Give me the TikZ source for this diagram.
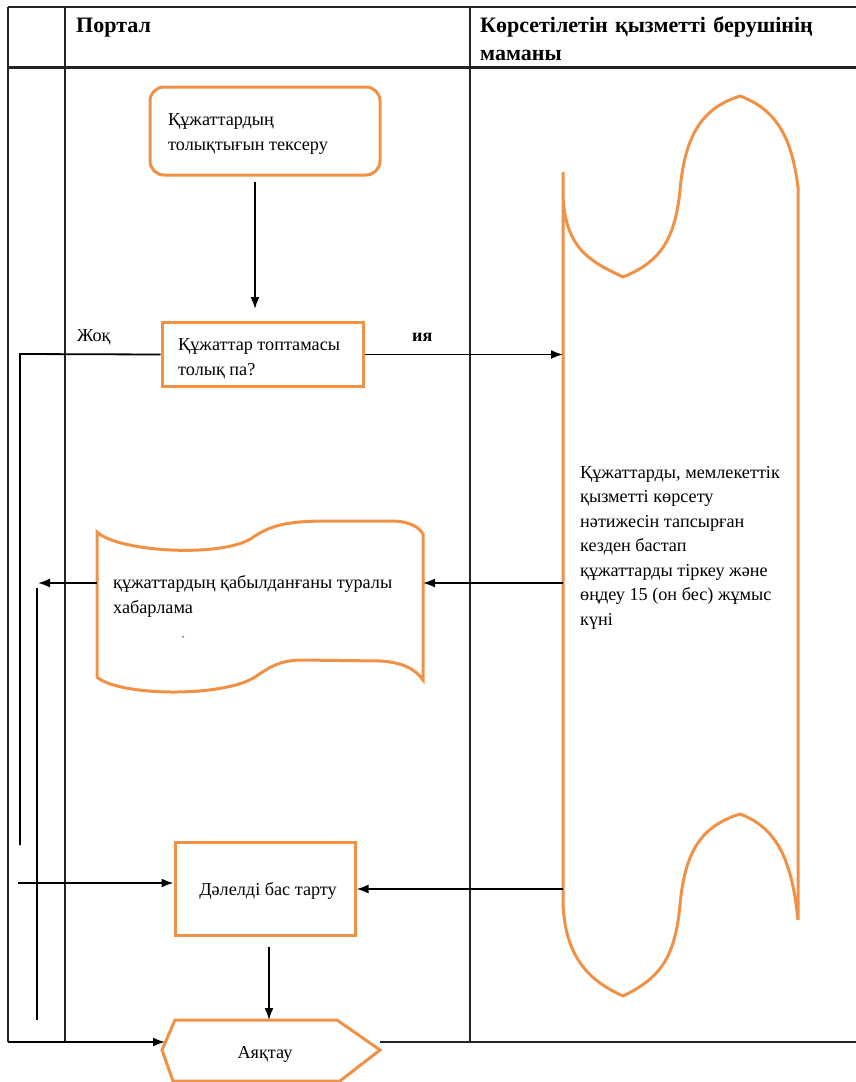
\documentclass[tikz,border=0pt]{standalone}
\usepackage{fontspec}
\setmainfont{Liberation Serif}
\usetikzlibrary{arrows.meta,calc}
\definecolor{boxorange}{RGB}{240,145,70}
\definecolor{rule}{RGB}{35,35,35}
\tikzset{
  x=1pt, y=-1pt,
  grid/.style={draw=rule, line width=2pt},
  shapeline/.style={draw=boxorange, line width=3pt, fill=white},
  conn/.style={draw=black, line width=1.8pt},
  arr/.style={conn, -{Latex[length=12pt,width=9pt]}},
  body/.style={font=\fontsize{18.2}{24.5}\selectfont, inner sep=0pt, align=left},
  head/.style={font=\fontsize{22}{28}\selectfont\bfseries, inner sep=0pt, align=left},
}
\begin{document}
\begin{tikzpicture}
\useasboundingbox (0,0) rectangle (856,1082);

% swimlane table
\draw[grid] (8,7) -- (856,7);
\draw[grid, line width=3pt] (8,67) -- (856,67);
\draw[grid] (8,7) -- (8,1042);
\draw[grid] (65,7) -- (65,1042);
\draw[grid] (470,7) -- (470,1042);
\draw[grid] (380,1042) -- (856,1042);
\node[head, anchor=base west] (hPortal) at (76,32) {Портал};
\node[head, anchor=base west, text width=370pt] (hSpec) at (480,32)
  {Көрсетілетін қызметті берушінің\\маманы};

% check of the documents
\node[shapeline, rounded corners=14pt, minimum width=230pt, minimum height=88pt] (check) at (265,131) {};
\node[body, anchor=base west] (checkT) at (168,150) {Құжаттардың\\толықтығын тексеру};

% decision
\node[shapeline, minimum width=201pt, minimum height=64pt] (dec) at (262.5,354.5) {};
\node[body, anchor=base west] (decT) at (178,375) {Құжаттар топтамасы\\толық па?};
\node[body, anchor=base west] (no) at (77,341) {Жоқ};
\node[body, anchor=base west, font=\fontsize{18}{24}\selectfont\bfseries] (yes) at (412,341) {ия};

% specialist processing (vertical tape)
\draw[shapeline, fill=none]
  (563,172) -- (563,903)
  .. controls (565,960) and (592,982) .. (623,996)
  .. controls (660,978) and (675,958) .. (680,905)
  .. controls (685,850) and (702,826) .. (740,814)
  .. controls (778,828) and (792,862) .. (798,920)
  -- (798,187)
  .. controls (792,140) and (778,110) .. (740,96)
  .. controls (702,108) and (685,135) .. (680,190)
  .. controls (675,240) and (660,262) .. (623,277)
  .. controls (592,262) and (565,250) .. (563,195);
\coordinate (tapeL) at (563,0);
\node[body, anchor=base west] (proc) at (580,625)
  {Құжаттарды, мемлекеттік\\қызметті көрсету\\нәтижесін тапсырған\\кезден бастап\\құжаттарды тіркеу және\\өңдеу 15 (он бес) жұмыс\\күні};

% notification (document wave)
\draw[shapeline]
  (97,532) .. controls (118,552) and (222,558) .. (252,538)
  .. controls (272,524) and (290,521) .. (330,521) -- (395,521)
  .. controls (410,522) and (419,527) .. (423,534) -- (423,680)
  .. controls (415,668) and (400,662) .. (380,661) -- (300,660)
  .. controls (278,661) and (270,667) .. (255,677)
  .. controls (222,698) and (118,696) .. (97,677) -- cycle;
\coordinate (notW) at (97,583);
\coordinate (notE) at (423,583);
\node[body, anchor=base west] (notT) at (113,613) {құжаттардың қабылданғаны туралы\\хабарлама};
\node[body, anchor=base, font=\fontsize{9}{10}\selectfont] (dash) at (183,639) {-};

% refusal
\node[shapeline, minimum width=180pt, minimum height=93pt] (ref) at (265,888.5) {};
\node[body, anchor=base] (refT) at (268,895) {Дәлелді бас тарту};

% end
\coordinate (hL) at (162,1050);
\coordinate (hTL) at (175,1020);
\coordinate (hTR) at (337,1020);
\coordinate (hR) at (380,1050);
\coordinate (hBR) at (340,1081);
\coordinate (hBL) at (173,1081);
\draw[shapeline] (hL) -- (hTL) -- (hTR) -- (hR) -- (hBR) -- (hBL) -- cycle;
\node[body, anchor=base] (endT) at (265,1058) {Аяқтау};

% connectors
\draw[arr, shorten <=5pt, shorten >=12pt] ([xshift=-10pt]check.south) -- ([xshift=-10pt]check.south |- dec.north);
\coordinate (noTurn) at (20,354);
\coordinate (noEnd) at (20,845);
\draw[conn] (dec.west) -- (noTurn) -- (noEnd);
\draw[arr] (dec.east) -- (dec.east -| tapeL);
\coordinate (tapeOut1) at (563,583);
\draw[arr] (tapeOut1) -- (notE);
\coordinate (notOut) at (38,583);
\draw[arr] (notW) -- (notOut);
\coordinate (leftTop) at (37,588);
\coordinate (leftBot) at (37,1020);
\draw[conn] (leftTop) -- (leftBot);
\coordinate (refIn) at (18,883);
\draw[arr] (refIn) -- (refIn -| ref.west);
\coordinate (tapeOut2) at (563,889);
\draw[arr] (tapeOut2) -- (tapeOut2 -| ref.east);
\draw[arr, shorten <=10pt] ([xshift=4pt]ref.south) -- ([xshift=4pt]ref.south |- hTL);
\coordinate (tblCorner) at (8,1042);
\draw[arr] (tblCorner) -- (165,1042);
\end{tikzpicture}
\end{document}
